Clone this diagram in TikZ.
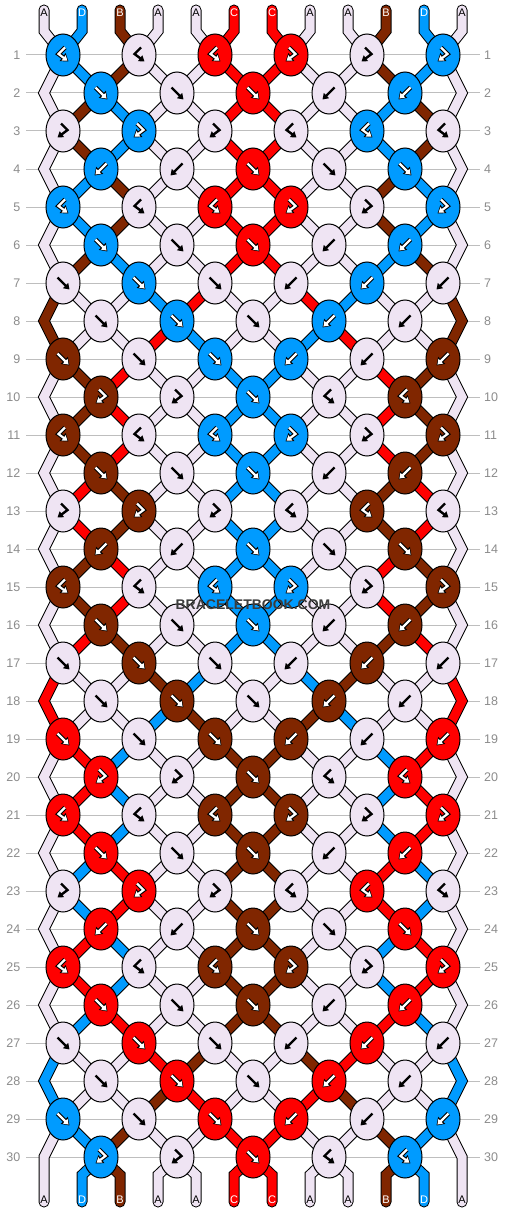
\documentclass[tikz,border=0pt]{standalone}
\usepackage{fontspec}
\setmainfont{Liberation Sans}
\usetikzlibrary{arrows.meta,shapes.geometric,backgrounds}
\definecolor{colA}{HTML}{EFE4F3}
\definecolor{colB}{HTML}{802600}
\definecolor{colC}{HTML}{FF0000}
\definecolor{colD}{HTML}{009BFF}
\definecolor{gridgray}{HTML}{BEBEBE}
\definecolor{numgray}{HTML}{8C8C8C}
\definecolor{wmgray}{HTML}{3C3C3C}
\def\knotrows{%
1/{bf/D,bf/A,bf/C,fb/C,fb/A,fb/D},%
2/{f/D,f/A,f/C,b/A,b/D},%
3/{fb/A,fb/D,fb/A,bf/A,bf/D,bf/A},%
4/{b/D,b/A,f/C,f/A,f/D},%
5/{bf/D,bf/A,bf/C,fb/C,fb/A,fb/D},%
6/{f/D,f/A,f/C,b/A,b/D},%
7/{f/A,f/D,f/A,b/A,b/D,b/A},%
8/{f/A,f/D,f/A,b/D,b/A},%
9/{f/B,f/A,f/D,b/D,b/A,b/B},%
10/{fb/B,fb/A,f/D,bf/A,bf/B},%
11/{bf/B,bf/A,bf/D,fb/D,fb/A,fb/B},%
12/{f/B,f/A,f/D,b/A,b/B},%
13/{fb/A,fb/B,fb/A,bf/A,bf/B,bf/A},%
14/{b/B,b/A,f/D,f/A,f/B},%
15/{bf/B,bf/A,bf/D,fb/D,fb/A,fb/B},%
16/{f/B,f/A,f/D,b/A,b/B},%
17/{f/A,f/B,f/A,b/A,b/B,b/A},%
18/{f/A,f/B,f/A,b/B,b/A},%
19/{f/C,f/A,f/B,b/B,b/A,b/C},%
20/{fb/C,fb/A,f/B,bf/A,bf/C},%
21/{bf/C,bf/A,bf/B,fb/B,fb/A,fb/C},%
22/{f/C,f/A,f/B,b/A,b/C},%
23/{fb/A,fb/C,fb/A,bf/A,bf/C,bf/A},%
24/{b/C,b/A,f/B,f/A,f/C},%
25/{bf/C,bf/A,bf/B,fb/B,fb/A,fb/C},%
26/{f/C,f/A,f/B,b/A,b/C},%
27/{f/A,f/C,f/A,b/A,b/C,b/A},%
28/{f/A,f/C,f/A,b/C,b/A},%
29/{f/D,f/A,f/C,b/C,b/A,b/D},%
30/{fb/D,fb/A,f/C,bf/A,bf/D}}
\def\strrows{%
0/{A,D,B,A,A,C,C,A,A,B,D,A},%
1/{A,D,B,A,A,C,C,A,A,B,D,A},%
2/{A,B,D,A,A,C,C,A,A,D,B,A},%
3/{A,B,D,A,A,C,C,A,A,D,B,A},%
4/{A,D,B,A,A,C,C,A,A,B,D,A},%
5/{A,D,B,A,A,C,C,A,A,B,D,A},%
6/{A,B,D,A,A,C,C,A,A,D,B,A},%
7/{B,A,A,D,C,A,A,C,D,A,A,B},%
8/{B,A,A,C,D,A,A,D,C,A,A,B},%
9/{A,B,C,A,A,D,D,A,A,C,B,A},%
10/{A,B,C,A,A,D,D,A,A,C,B,A},%
11/{A,B,C,A,A,D,D,A,A,C,B,A},%
12/{A,C,B,A,A,D,D,A,A,B,C,A},%
13/{A,C,B,A,A,D,D,A,A,B,C,A},%
14/{A,B,C,A,A,D,D,A,A,C,B,A},%
15/{A,B,C,A,A,D,D,A,A,C,B,A},%
16/{A,C,B,A,A,D,D,A,A,B,C,A},%
17/{C,A,A,B,D,A,A,D,B,A,A,C},%
18/{C,A,A,D,B,A,A,B,D,A,A,C},%
19/{A,C,D,A,A,B,B,A,A,D,C,A},%
20/{A,C,D,A,A,B,B,A,A,D,C,A},%
21/{A,C,D,A,A,B,B,A,A,D,C,A},%
22/{A,D,C,A,A,B,B,A,A,C,D,A},%
23/{A,D,C,A,A,B,B,A,A,C,D,A},%
24/{A,C,D,A,A,B,B,A,A,D,C,A},%
25/{A,C,D,A,A,B,B,A,A,D,C,A},%
26/{A,D,C,A,A,B,B,A,A,C,D,A},%
27/{D,A,A,C,B,A,A,B,C,A,A,D},%
28/{D,A,A,B,C,A,A,C,B,A,A,D},%
29/{A,D,B,A,A,C,C,A,A,B,D,A},%
30/{A,D,B,A,A,C,C,A,A,B,D,A}}
\begin{document}
\begin{tikzpicture}[x=1pt,y=-1pt,
  knot/.style={ellipse, draw=black, line width=1pt, minimum width=34pt, minimum height=42pt, inner sep=0pt},
  tube1/.style={draw=black, line width=11pt, line cap=round, line join=miter},
  tube2/.style={draw=col#1, line width=9pt, line cap=round, line join=miter},
  rowline/.style={draw=gridgray, line width=1pt},
  rownum/.style={text=numgray, font=\fontsize{12.5pt}{14pt}\selectfont, inner sep=0pt},
  strlabel/.style={font=\fontsize{11pt}{12pt}\selectfont, inner sep=0pt},
  lblA/.style={text=black}, lblB/.style={text=white}, lblC/.style={text=white}, lblD/.style={text=white},
  glyphA/.style={gout/.style={}, gin/.style={draw=black, line width=2.4pt, line join=miter, -{Triangle[length=5.5pt,width=7pt]}}},
  glyphW/.style={gout/.style={draw=black, line width=4.4pt, line join=miter, -{Triangle[length=7.4pt,width=9.6pt]}}, gin/.style={draw=white, line width=2.2pt, line join=miter, shorten >=1.3pt, -{Triangle[length=4.8pt,width=6.4pt]}}},
  glyphB/.style={glyphW}, glyphC/.style={glyphW}, glyphD/.style={glyphW},
  pics/gf/.style={code={\path[gout] (-5.5,-5.5) -- (6.5,6.5); \path[gin] (-5.5,-5.5) -- (6.5,6.5);}},
  pics/gb/.style={code={\path[gout] (5.5,-5.5) -- (-6.5,6.5); \path[gin] (5.5,-5.5) -- (-6.5,6.5);}},
  pics/gbf/.style={code={\path[gout] (2,-7.5) -- (-4.5,-1) -- (5.5,6.5); \path[gin] (2,-7.5) -- (-4.5,-1) -- (5.5,6.5);}},
  pics/gfb/.style={code={\path[gout] (-2,-7.5) -- (4.5,-1) -- (-5.5,6.5); \path[gin] (-2,-7.5) -- (4.5,-1) -- (-5.5,6.5);}}
]
\useasboundingbox (0,0) rectangle (506,1212);
% knots and row numbers
\foreach \rr/\rowdata in \knotrows {
  \pgfmathsetmacro{\yy}{55+38*(\rr-1)}
  \pgfmathsetmacro{\xo}{mod(\rr,2)==1 ? 63 : 101}
  \foreach \ty/\co [count=\kn] in \rowdata {
    \node[knot, fill=col\co] (k-\rr-\kn) at ({\xo+76*(\kn-1)}, \yy) {};
    \pic[glyph\co] at (k-\rr-\kn.center) {g\ty};
  }
  \node[rownum, anchor=east] (ln-\rr) at (20.5,\yy) {\rr};
  \node[rownum, anchor=west] (rn-\rr) at (484,\yy) {\rr};
}
% fixed points of the strings
\foreach \ps in {1,...,12} {
  \pgfmathsetmacro{\xs}{44+38*(\ps-1)}
  \coordinate (t-\ps) at (\xs,10);
  \coordinate (tb-\ps) at (\xs,31);
  \coordinate (bb-\ps) at (\xs,1175);
  \coordinate (b-\ps) at (\xs,1202);
}
\foreach \rr in {2,4,...,30} {
  \pgfmathsetmacro{\yy}{55+38*(\rr-1)}
  \coordinate (e-\rr-1) at (44,\yy);
  \coordinate (e-\rr-12) at (462,\yy);
}
\begin{scope}[on background layer]
  \fill[white] (0,0) rectangle (506,1212);
  \foreach \rr in {1,...,30} \draw[rowline] ([xshift=5.5pt]ln-\rr.east) -- ([xshift=-4pt]rn-\rr.west);
  \foreach \pass in {1,2} {
    \foreach \rr/\cols in \strrows {
      \pgfmathtruncatemacro{\rnext}{\rr+1}
      \pgfmathtruncatemacro{\rprev}{\rr-1}
      \pgfmathtruncatemacro{\rpar}{mod(\rr,2)}
      \foreach \co [count=\ps] in \cols {
        \pgfmathtruncatemacro{\ka}{\rpar==1 ? (\ps+1)/2 : \ps/2}
        \pgfmathtruncatemacro{\kb}{\rpar==1 ? \ps/2 : (\ps+1)/2}
        \pgfmathtruncatemacro{\edge}{(\ps==1 || \ps==12) ? 1 : 0}
        \pgfmathtruncatemacro{\ke}{\ps==1 ? 1 : 6}
        \ifnum\rr=0
          \draw[tube\pass=\co] (t-\ps) -- (tb-\ps) -- (k-1-\kb.center);
        \else
          \ifnum\edge=1
            \ifnum\rpar=0
              \ifnum\rr=30
                \draw[tube\pass=\co] (k-\rprev-\ke.center) -- (e-\rr-\ps) -- (b-\ps);
              \else
                \draw[tube\pass=\co] (k-\rprev-\ke.center) -- (e-\rr-\ps) -- (k-\rnext-\ke.center);
              \fi
            \fi
          \else
            \ifnum\rr=30
              \draw[tube\pass=\co] (k-\rr-\ka.center) -- (bb-\ps) -- (b-\ps);
            \else
              \draw[tube\pass=\co] (k-\rr-\ka.center) -- (k-\rnext-\kb.center);
            \fi
          \fi
        \fi
      }
    }
  }
\end{scope}
% string labels
\foreach \co [count=\ps] in {A,D,B,A,A,C,C,A,A,B,D,A} {
  \pgfmathsetmacro{\xs}{44+38*(\ps-1)}
  \node[strlabel, lbl\co] (tl-\ps) at (\xs,12.5) {\co};
  \node[strlabel, lbl\co] (bl-\ps) at (\xs,1199.5) {\co};
}
\node[font=\bfseries\fontsize{14pt}{16pt}\selectfont, text=wmgray] (wm) at (253,605) {BRACELETBOOK.COM};
\end{tikzpicture}
\end{document}
